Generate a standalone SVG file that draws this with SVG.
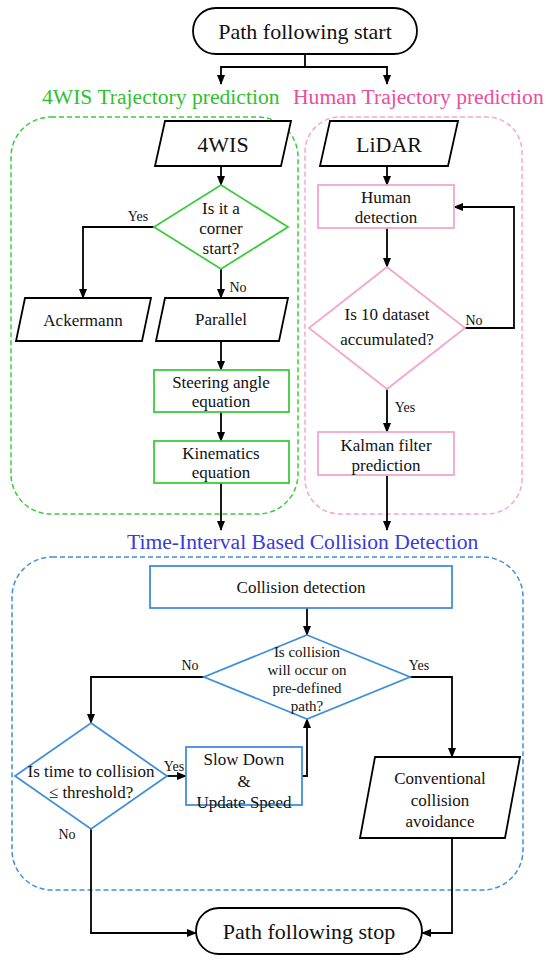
<svg xmlns="http://www.w3.org/2000/svg" width="550" height="960" viewBox="0 0 550 960" font-family="'Liberation Serif', 'Times New Roman', serif">
<defs>
<marker id="ah" markerWidth="10" markerHeight="8" refX="9" refY="4" orient="auto" markerUnits="userSpaceOnUse">
<path d="M0,0 L10,4 L0,8 Z" fill="#000"/>
</marker>
<style>
text{font-family:'Liberation Serif','Times New Roman',serif;fill:#111;text-anchor:middle;dominant-baseline:central}
.blk{fill:#fff;stroke:#000;stroke-width:1.8}
.grn{fill:#fff;stroke:#3ccb3c;stroke-width:1.8}
.pnk{fill:#fff;stroke:#f4a6cf;stroke-width:1.8}
.blu{fill:#fff;stroke:#3f8fdb;stroke-width:1.8}
.grp{fill:none;stroke-width:1.5;stroke-dasharray:5 3}
.con{fill:none;stroke:#000;stroke-width:1.8}
.arr{marker-end:url(#ah)}
.t17{font-size:17px}
.t16{font-size:16px}
.t15{font-size:15px}
.lab{font-size:14px}
.big{font-size:22px}
.ttl{font-size:21.6px;text-anchor:start;dominant-baseline:alphabetic}
</style>
</defs>
<rect width="550" height="960" fill="#fff"/>

<g id="group-4wis">
<rect class="grp" x="11" y="117" width="287" height="397" rx="40" stroke="#3ccb3c"/>
<text class="ttl" x="42" y="104" style="fill:#2fbf2f">4WIS Trajectory prediction</text>
</g>
<g id="group-human">
<rect class="grp" x="305" y="117" width="217" height="397" rx="35" stroke="#f4a6cf"/>
<text class="ttl" x="293" y="104" style="fill:#ee4c9c">Human Trajectory prediction</text>
</g>
<g id="group-collision">
<rect class="grp" x="12" y="557" width="511" height="333" rx="40" stroke="#3f8fdb"/>
<text class="ttl" x="127" y="549" style="fill:#3a3ae0">Time-Interval Based Collision Detection</text>
</g>

<g id="connectors">
<polyline class="con" points="305,54 305,67"/>
<polyline class="con arr" points="305,67 221,67 221,84"/>
<polyline class="con arr" points="305,67 387,67 387,84"/>
<polyline class="con arr" points="221,166 221,185"/>
<polyline class="con arr" points="154,227 83,227 83,298"/>
<polyline class="con arr" points="221,269 221,298"/>
<polyline class="con arr" points="221,341 221,370"/>
<polyline class="con arr" points="221,412 221,441"/>
<polyline class="con arr" points="221,483 221,530"/>
<polyline class="con arr" points="387,166 387,185"/>
<polyline class="con arr" points="387,228 387,267"/>
<polyline class="con arr" points="465,328 514,328 514,207 454,207"/>
<polyline class="con arr" points="387,389 387,432"/>
<polyline class="con arr" points="387,475 387,530"/>
<polyline class="con arr" points="307,608 307,635"/>
<polyline class="con arr" points="204,677 91,677 91,723"/>
<polyline class="con arr" points="410,677 452,677 452,757"/>
<polyline class="con arr" points="166,776 186,776"/>
<polyline class="con arr" points="302,776 307,776 307,719"/>
<polyline class="con arr" points="91,829 91,933 196,933"/>
<polyline class="con arr" points="452,838 452,933 422,933"/>
<text class="lab" x="138" y="216">Yes</text>
<text class="lab" x="238" y="287">No</text>
<text class="lab" x="474" y="320">No</text>
<text class="lab" x="405" y="407">Yes</text>
<text class="lab" x="190" y="665">No</text>
<text class="lab" x="419" y="665">Yes</text>
<text class="lab" x="174" y="766">Yes</text>
<text class="lab" x="67" y="834">No</text>
</g>

<g id="start">
<rect class="blk" x="193" y="8" width="224" height="46" rx="23"/>
<text class="big" x="305" y="31">Path following start</text>
</g>
<g id="input-4wis">
<polygon class="blk" points="165,121 291,121 281,166 155,166"/>
<text class="big" x="223" y="144">4WIS</text>
</g>
<g id="input-lidar">
<polygon class="blk" points="330,121 458,121 448,166 320,166"/>
<text class="big" x="389" y="144">LiDAR</text>
</g>
<g id="corner-decision">
<polygon class="grn" points="221,185 288,227 221,269 154,227"/>
<text class="t17" x="221" y="208">Is it a</text>
<text class="t17" x="221" y="228">corner</text>
<text class="t17" x="221" y="248">start?</text>
</g>
<g id="ackermann">
<polygon class="blk" points="25,298 151,298 142,341 16,341"/>
<text class="t17" x="83" y="320">Ackermann</text>
</g>
<g id="parallel">
<polygon class="blk" points="165,298 288,298 279,341 156,341"/>
<text class="t17" x="221" y="319">Parallel</text>
</g>
<g id="steering">
<rect class="grn" x="154" y="370" width="135" height="42"/>
<text class="t17" x="221" y="382">Steering angle</text>
<text class="t17" x="221" y="401">equation</text>
</g>
<g id="kinematics">
<rect class="grn" x="154" y="441" width="135" height="42"/>
<text class="t17" x="221" y="453">Kinematics</text>
<text class="t17" x="221" y="472">equation</text>
</g>
<g id="human-detection">
<rect class="pnk" x="318" y="185" width="136" height="43"/>
<text class="t17" x="386" y="197">Human</text>
<text class="t17" x="386" y="217">detection</text>
</g>
<g id="dataset-decision">
<polygon class="pnk" points="387,267 465,328 387,389 309,328"/>
<text class="t17" x="387" y="314">Is 10 dataset</text>
<text class="t17" x="387" y="339">accumulated?</text>
</g>
<g id="kalman">
<rect class="pnk" x="318" y="432" width="136" height="43"/>
<text class="t17" x="386" y="445">Kalman filter</text>
<text class="t17" x="386" y="465">prediction</text>
</g>
<g id="collision-detection">
<rect class="blu" x="150" y="566" width="302" height="42"/>
<text class="t17" x="301" y="587">Collision detection</text>
</g>
<g id="collision-decision">
<polygon class="blu" points="307,635 410,677 307,719 204,677"/>
<text class="t15" x="307" y="652">Is collision</text>
<text class="t15" x="307" y="670">will occur on</text>
<text class="t15" x="307" y="688">pre-defined</text>
<text class="t15" x="307" y="706">path?</text>
</g>
<g id="ttc-decision">
<polygon class="blu" points="91,723 167,776 91,829 15,776"/>
<text class="t17" x="91" y="771">Is time to collision</text>
<text class="t17" x="91" y="792">≤ threshold?</text>
</g>
<g id="slow-down">
<rect class="blu" x="186" y="747" width="116" height="58"/>
<text class="t17" x="244" y="759">Slow Down</text>
<text class="t17" x="244" y="781">&amp;</text>
<text class="t17" x="244" y="802">Update Speed</text>
</g>
<g id="conventional">
<polygon class="blk" points="375,757 520,757 505,838 360,838"/>
<text class="t17" x="440" y="778">Conventional</text>
<text class="t17" x="440" y="800">collision</text>
<text class="t17" x="440" y="821">avoidance</text>
</g>
<g id="stop">
<rect class="blk" x="196" y="908" width="226" height="46" rx="23"/>
<text class="big" x="309" y="931">Path following stop</text>
</g>
</svg>
